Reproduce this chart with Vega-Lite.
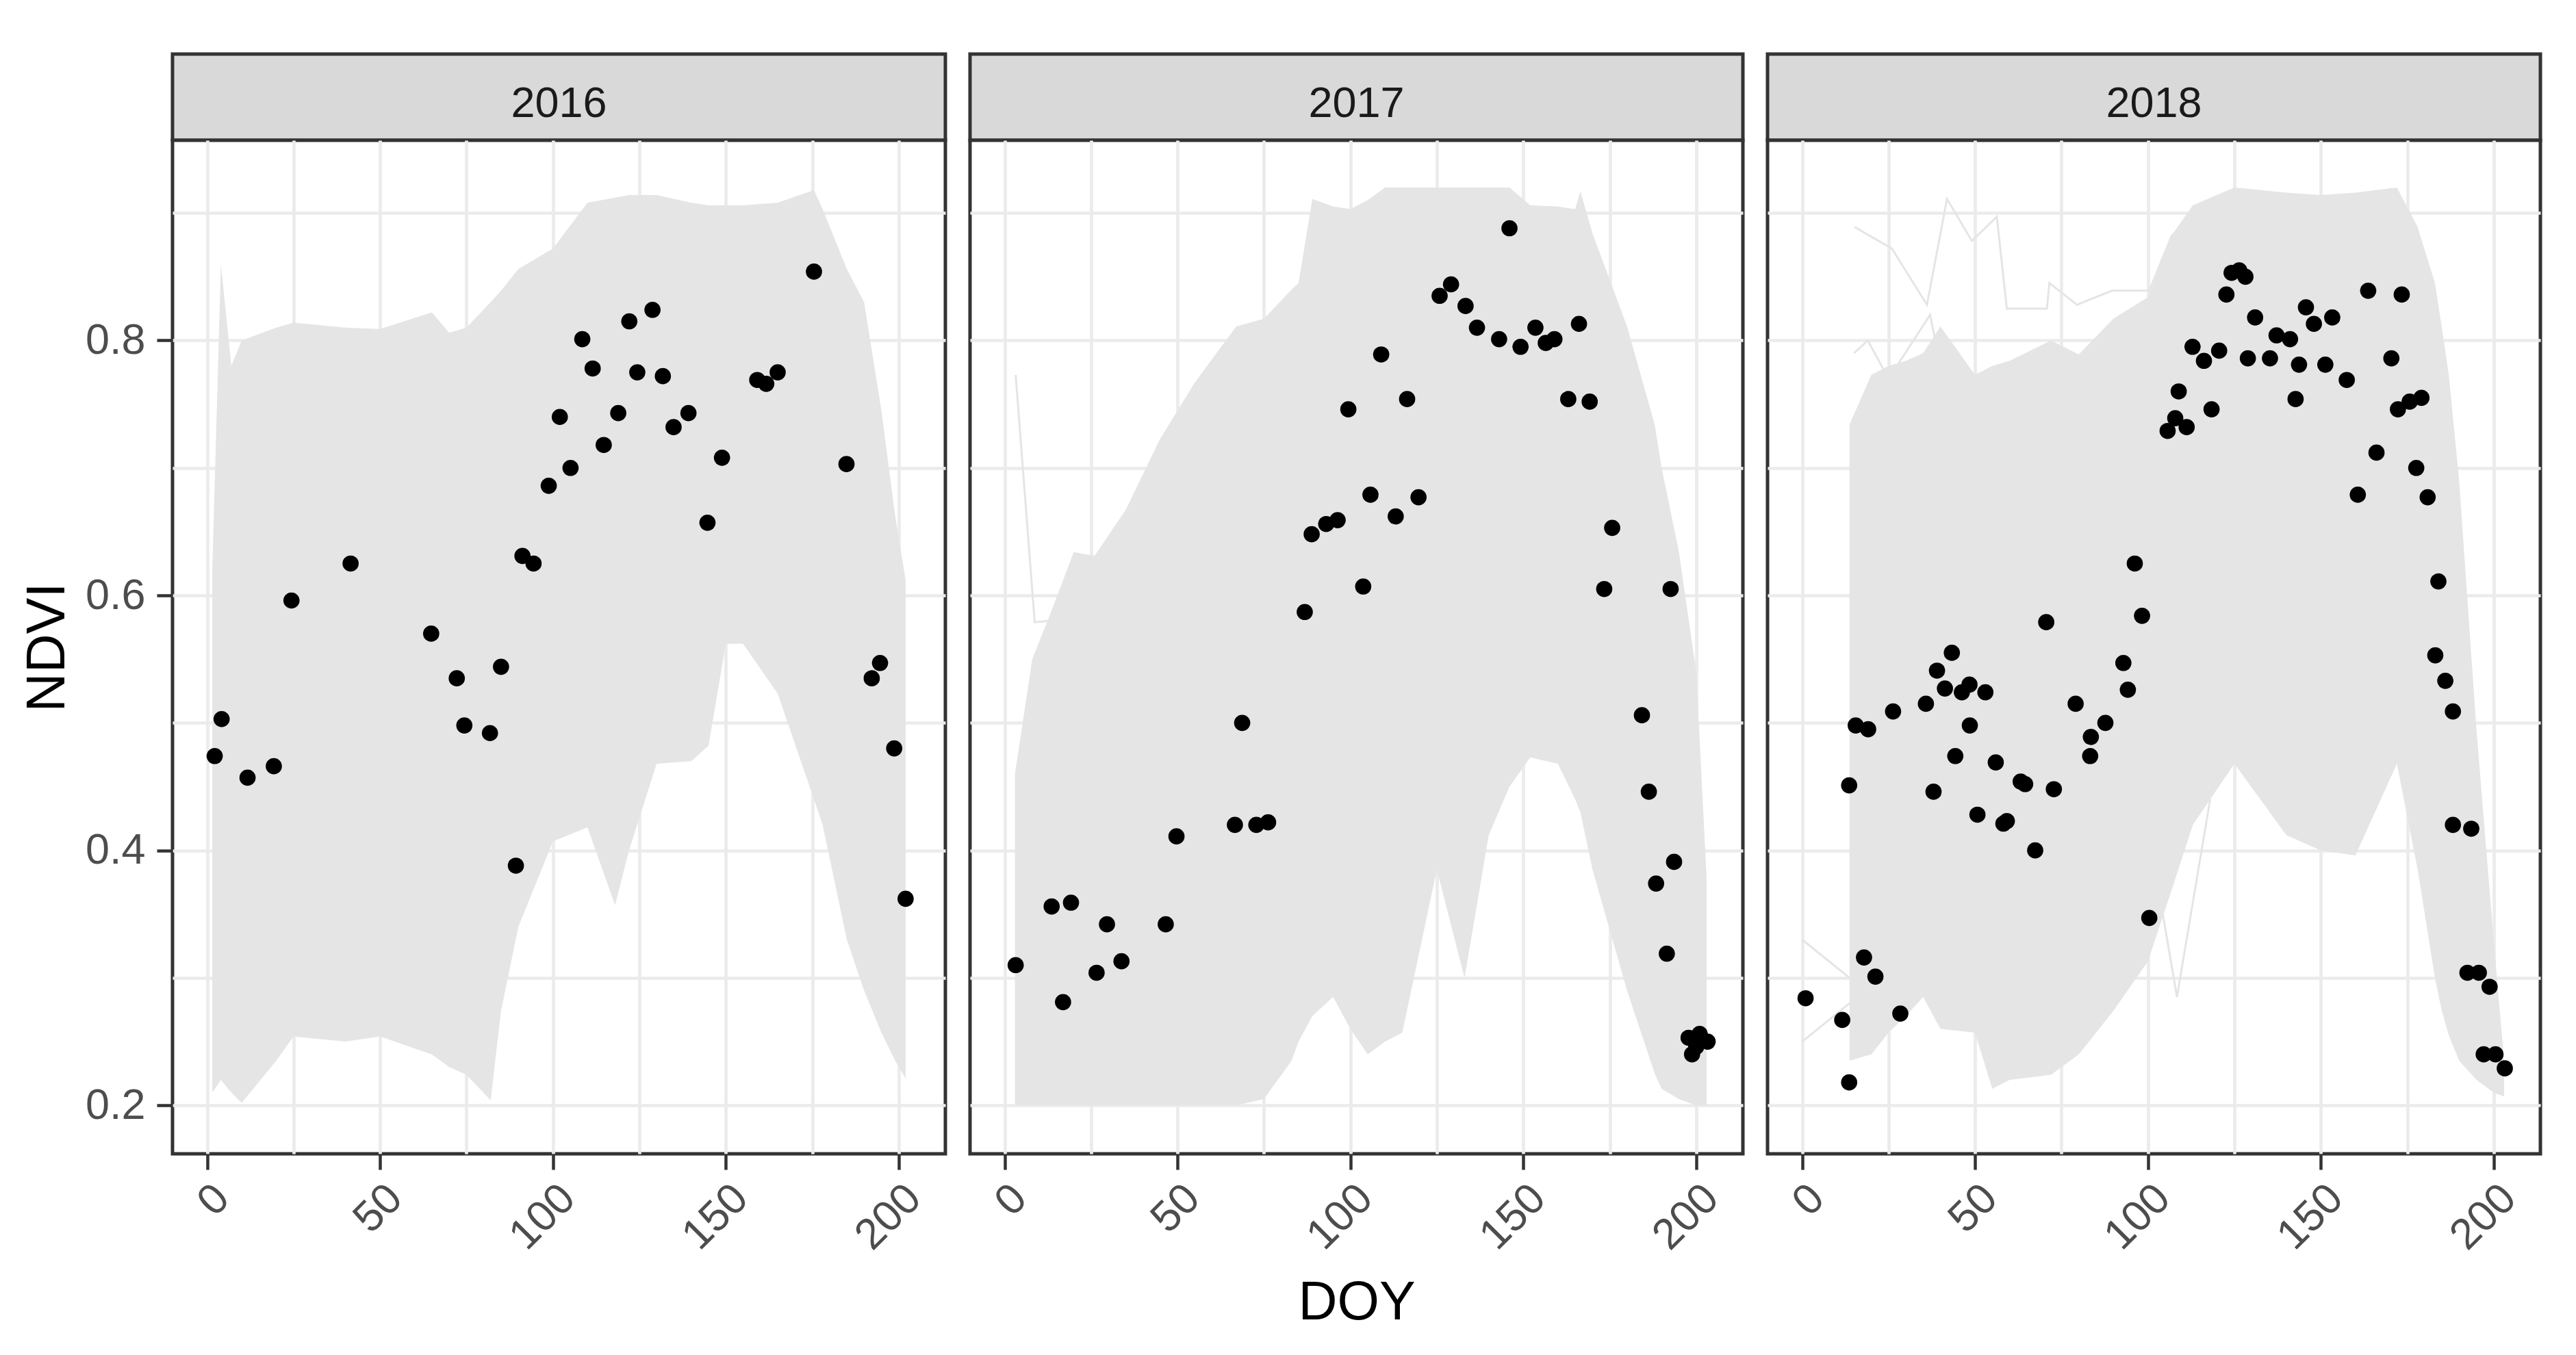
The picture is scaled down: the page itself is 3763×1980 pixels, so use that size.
{
"$schema": "https://vega.github.io/schema/vega-lite/v6.json",
"background": "white",
"padding": {"left": 27, "top": 76, "right": 5, "bottom": 5},
"autosize": {"type": "pad"},
"config": {"view": {"stroke": null}},
"datasets": {
"years": [{"year": "2016"}, {"year": "2017"}, {"year": "2018"}],
"band": [
{"year":2016,"doy":1.5,"lo":0.21,"hi":0.62},{"year":2016,"doy":4,"lo":0.22,"hi":0.86},{"year":2016,"doy":7,"lo":0.21,"hi":0.78},{"year":2016,"doy":10,"lo":0.202,"hi":0.80},{"year":2016,"doy":20,"lo":0.235,"hi":0.81},{"year":2016,"doy":25,"lo":0.254,"hi":0.814},{"year":2016,"doy":40,"lo":0.25,"hi":0.81},{"year":2016,"doy":50,"lo":0.254,"hi":0.809},{"year":2016,"doy":65,"lo":0.24,"hi":0.822},{"year":2016,"doy":70,"lo":0.23,"hi":0.806},{"year":2016,"doy":75,"lo":0.224,"hi":0.81},{"year":2016,"doy":82,"lo":0.204,"hi":0.83},{"year":2016,"doy":85,"lo":0.274,"hi":0.839},{"year":2016,"doy":90,"lo":0.34,"hi":0.856},{"year":2016,"doy":100,"lo":0.407,"hi":0.872},{"year":2016,"doy":110,"lo":0.418,"hi":0.908},{"year":2016,"doy":118,"lo":0.357,"hi":0.912},{"year":2016,"doy":122,"lo":0.40,"hi":0.914},{"year":2016,"doy":130,"lo":0.468,"hi":0.914},{"year":2016,"doy":140,"lo":0.47,"hi":0.908},{"year":2016,"doy":145,"lo":0.482,"hi":0.906},{"year":2016,"doy":150,"lo":0.562,"hi":0.906},{"year":2016,"doy":155,"lo":0.562,"hi":0.906},{"year":2016,"doy":165,"lo":0.523,"hi":0.908},{"year":2016,"doy":175.5,"lo":0.44,"hi":0.918},{"year":2016,"doy":178,"lo":0.42,"hi":0.903},{"year":2016,"doy":185,"lo":0.33,"hi":0.856},{"year":2016,"doy":190,"lo":0.29,"hi":0.83},{"year":2016,"doy":195,"lo":0.257,"hi":0.745},{"year":2016,"doy":199,"lo":0.235,"hi":0.662},{"year":2016,"doy":202,"lo":0.221,"hi":0.612},
{"year":2017,"doy":3,"lo":0.20,"hi":0.46},{"year":2017,"doy":8,"lo":0.20,"hi":0.55},{"year":2017,"doy":13,"lo":0.20,"hi":0.584},{"year":2017,"doy":20,"lo":0.20,"hi":0.634},{"year":2017,"doy":26,"lo":0.20,"hi":0.631},{"year":2017,"doy":35,"lo":0.20,"hi":0.667},{"year":2017,"doy":45,"lo":0.20,"hi":0.723},{"year":2017,"doy":55,"lo":0.20,"hi":0.767},{"year":2017,"doy":67,"lo":0.20,"hi":0.811},{"year":2017,"doy":75,"lo":0.205,"hi":0.817},{"year":2017,"doy":83,"lo":0.235,"hi":0.84},{"year":2017,"doy":85,"lo":0.25,"hi":0.845},{"year":2017,"doy":89,"lo":0.27,"hi":0.911},{"year":2017,"doy":95,"lo":0.285,"hi":0.905},{"year":2017,"doy":100,"lo":0.26,"hi":0.903},{"year":2017,"doy":105,"lo":0.24,"hi":0.91},{"year":2017,"doy":110,"lo":0.25,"hi":0.92},{"year":2017,"doy":115,"lo":0.257,"hi":0.92},{"year":2017,"doy":125,"lo":0.385,"hi":0.92},{"year":2017,"doy":133,"lo":0.30,"hi":0.92},{"year":2017,"doy":140,"lo":0.412,"hi":0.92},{"year":2017,"doy":146,"lo":0.45,"hi":0.92},{"year":2017,"doy":152,"lo":0.473,"hi":0.906},{"year":2017,"doy":160,"lo":0.468,"hi":0.905},{"year":2017,"doy":165,"lo":0.44,"hi":0.903},{"year":2017,"doy":166.5,"lo":0.43,"hi":0.917},{"year":2017,"doy":170,"lo":0.385,"hi":0.884},{"year":2017,"doy":180,"lo":0.29,"hi":0.811},{"year":2017,"doy":188,"lo":0.225,"hi":0.734},{"year":2017,"doy":190,"lo":0.213,"hi":0.70},{"year":2017,"doy":195,"lo":0.205,"hi":0.634},{"year":2017,"doy":200,"lo":0.20,"hi":0.54},{"year":2017,"doy":203,"lo":0.20,"hi":0.379},
{"year":2018,"doy":13.7,"lo":0.235,"hi":0.734},{"year":2018,"doy":20,"lo":0.24,"hi":0.773},{"year":2018,"doy":25,"lo":0.257,"hi":0.78},{"year":2018,"doy":30,"lo":0.27,"hi":0.784},{"year":2018,"doy":35,"lo":0.285,"hi":0.79},{"year":2018,"doy":40,"lo":0.26,"hi":0.811},{"year":2018,"doy":50,"lo":0.257,"hi":0.773},{"year":2018,"doy":55,"lo":0.213,"hi":0.78},{"year":2018,"doy":60,"lo":0.22,"hi":0.784},{"year":2018,"doy":72,"lo":0.224,"hi":0.80},{"year":2018,"doy":80,"lo":0.24,"hi":0.789},{"year":2018,"doy":90,"lo":0.274,"hi":0.817},{"year":2018,"doy":100,"lo":0.313,"hi":0.834},{"year":2018,"doy":107,"lo":0.37,"hi":0.883},{"year":2018,"doy":113,"lo":0.42,"hi":0.906},{"year":2018,"doy":125,"lo":0.468,"hi":0.92},{"year":2018,"doy":140,"lo":0.412,"hi":0.916},{"year":2018,"doy":150,"lo":0.40,"hi":0.914},{"year":2018,"doy":160,"lo":0.396,"hi":0.916},{"year":2018,"doy":172,"lo":0.468,"hi":0.92},{"year":2018,"doy":178,"lo":0.385,"hi":0.889},{"year":2018,"doy":183,"lo":0.30,"hi":0.845},{"year":2018,"doy":185,"lo":0.274,"hi":0.81},{"year":2018,"doy":187,"lo":0.255,"hi":0.773},{"year":2018,"doy":190,"lo":0.235,"hi":0.69},{"year":2018,"doy":195,"lo":0.22,"hi":0.495},{"year":2018,"doy":200,"lo":0.21,"hi":0.329},{"year":2018,"doy":203,"lo":0.207,"hi":0.235}
],
"stray": [
{"year":2017,"id":"s1","doy":3.2,"ndvi":0.773},{"year":2017,"id":"s1","doy":8.7,"ndvi":0.579},{"year":2017,"id":"s1","doy":13,"ndvi":0.58},
{"year":2018,"id":"t1","doy":15.2,"ndvi":0.889},{"year":2018,"id":"t1","doy":26,"ndvi":0.872},{"year":2018,"id":"t1","doy":36.1,"ndvi":0.828},{"year":2018,"id":"t1","doy":41.9,"ndvi":0.911},{"year":2018,"id":"t1","doy":49.1,"ndvi":0.878},{"year":2018,"id":"t1","doy":56.3,"ndvi":0.897},{"year":2018,"id":"t1","doy":59.2,"ndvi":0.825},{"year":2018,"id":"t1","doy":70.8,"ndvi":0.825},{"year":2018,"id":"t1","doy":71.5,"ndvi":0.845},{"year":2018,"id":"t1","doy":79.5,"ndvi":0.828},{"year":2018,"id":"t1","doy":89.6,"ndvi":0.839},{"year":2018,"id":"t1","doy":100.4,"ndvi":0.839},{"year":2018,"id":"t1","doy":107,"ndvi":0.883},
{"year":2018,"id":"t2","doy":0,"ndvi":0.33},{"year":2018,"id":"t2","doy":13.7,"ndvi":0.30},
{"year":2018,"id":"t3","doy":0,"ndvi":0.25},{"year":2018,"id":"t3","doy":13.7,"ndvi":0.28},
{"year":2018,"id":"t4","doy":98,"ndvi":0.45},{"year":2018,"id":"t4","doy":108.4,"ndvi":0.285},{"year":2018,"id":"t4","doy":118,"ndvi":0.44},
{"year":2018,"id":"t5","doy":15,"ndvi":0.79},{"year":2018,"id":"t5","doy":19,"ndvi":0.80},{"year":2018,"id":"t5","doy":25,"ndvi":0.77},{"year":2018,"id":"t5","doy":37,"ndvi":0.82},{"year":2018,"id":"t5","doy":40,"ndvi":0.78}
],
"pts": [
{"year":2016,"doy":2.2,"ndvi":0.474},{"year":2016,"doy":4.2,"ndvi":0.503},{"year":2016,"doy":11.7,"ndvi":0.457},{"year":2016,"doy":19.3,"ndvi":0.466},{"year":2016,"doy":24.4,"ndvi":0.596},{"year":2016,"doy":41.5,"ndvi":0.625},{"year":2016,"doy":64.8,"ndvi":0.570},{"year":2016,"doy":72.2,"ndvi":0.535},{"year":2016,"doy":74.4,"ndvi":0.498},{"year":2016,"doy":81.8,"ndvi":0.492},{"year":2016,"doy":85.0,"ndvi":0.544},{"year":2016,"doy":89.3,"ndvi":0.388},{"year":2016,"doy":91.2,"ndvi":0.631},{"year":2016,"doy":94.4,"ndvi":0.625},{"year":2016,"doy":98.8,"ndvi":0.686},{"year":2016,"doy":102.0,"ndvi":0.740},{"year":2016,"doy":105.1,"ndvi":0.700},{"year":2016,"doy":108.5,"ndvi":0.801},{"year":2016,"doy":111.5,"ndvi":0.778},{"year":2016,"doy":114.7,"ndvi":0.718},{"year":2016,"doy":118.9,"ndvi":0.743},{"year":2016,"doy":122.1,"ndvi":0.815},{"year":2016,"doy":124.4,"ndvi":0.775},{"year":2016,"doy":128.8,"ndvi":0.824},{"year":2016,"doy":131.8,"ndvi":0.772},{"year":2016,"doy":134.9,"ndvi":0.732},{"year":2016,"doy":139.2,"ndvi":0.743},{"year":2016,"doy":144.7,"ndvi":0.657},{"year":2016,"doy":148.9,"ndvi":0.708},{"year":2016,"doy":159.1,"ndvi":0.769},{"year":2016,"doy":161.7,"ndvi":0.766},{"year":2016,"doy":165.0,"ndvi":0.775},{"year":2016,"doy":175.5,"ndvi":0.854},{"year":2016,"doy":184.9,"ndvi":0.703},{"year":2016,"doy":192.2,"ndvi":0.535},{"year":2016,"doy":194.6,"ndvi":0.547},{"year":2016,"doy":198.7,"ndvi":0.480},{"year":2016,"doy":202.0,"ndvi":0.362},
{"year":2017,"doy":3.2,"ndvi":0.310},{"year":2017,"doy":13.6,"ndvi":0.356},{"year":2017,"doy":16.9,"ndvi":0.281},{"year":2017,"doy":19.2,"ndvi":0.359},{"year":2017,"doy":26.6,"ndvi":0.304},{"year":2017,"doy":29.6,"ndvi":0.342},{"year":2017,"doy":33.8,"ndvi":0.313},{"year":2017,"doy":46.6,"ndvi":0.342},{"year":2017,"doy":49.7,"ndvi":0.411},{"year":2017,"doy":66.6,"ndvi":0.420},{"year":2017,"doy":68.7,"ndvi":0.500},{"year":2017,"doy":72.8,"ndvi":0.420},{"year":2017,"doy":76.2,"ndvi":0.422},{"year":2017,"doy":86.8,"ndvi":0.587},{"year":2017,"doy":88.8,"ndvi":0.648},{"year":2017,"doy":93.0,"ndvi":0.656},{"year":2017,"doy":96.3,"ndvi":0.659},{"year":2017,"doy":99.4,"ndvi":0.746},{"year":2017,"doy":103.7,"ndvi":0.607},{"year":2017,"doy":105.8,"ndvi":0.679},{"year":2017,"doy":108.9,"ndvi":0.789},{"year":2017,"doy":113.1,"ndvi":0.662},{"year":2017,"doy":116.4,"ndvi":0.754},{"year":2017,"doy":119.7,"ndvi":0.677},{"year":2017,"doy":125.8,"ndvi":0.835},{"year":2017,"doy":129.1,"ndvi":0.844},{"year":2017,"doy":133.3,"ndvi":0.827},{"year":2017,"doy":136.6,"ndvi":0.810},{"year":2017,"doy":143.0,"ndvi":0.801},{"year":2017,"doy":146.0,"ndvi":0.888},{"year":2017,"doy":149.2,"ndvi":0.795},{"year":2017,"doy":153.5,"ndvi":0.810},{"year":2017,"doy":156.5,"ndvi":0.798},{"year":2017,"doy":159.0,"ndvi":0.801},{"year":2017,"doy":166.1,"ndvi":0.813},{"year":2017,"doy":163.0,"ndvi":0.754},{"year":2017,"doy":169.2,"ndvi":0.752},{"year":2017,"doy":175.7,"ndvi":0.653},{"year":2017,"doy":173.4,"ndvi":0.605},{"year":2017,"doy":192.6,"ndvi":0.605},{"year":2017,"doy":184.3,"ndvi":0.506},{"year":2017,"doy":186.3,"ndvi":0.446},{"year":2017,"doy":193.6,"ndvi":0.391},{"year":2017,"doy":188.4,"ndvi":0.374},{"year":2017,"doy":191.5,"ndvi":0.319},{"year":2017,"doy":197.8,"ndvi":0.253},{"year":2017,"doy":198.8,"ndvi":0.240},{"year":2017,"doy":201.0,"ndvi":0.256},{"year":2017,"doy":203.3,"ndvi":0.250},{"year":2017,"doy":200.0,"ndvi":0.246},
{"year":2018,"doy":1.0,"ndvi":0.284},{"year":2018,"doy":11.6,"ndvi":0.267},{"year":2018,"doy":13.6,"ndvi":0.218},{"year":2018,"doy":13.6,"ndvi":0.451},{"year":2018,"doy":15.5,"ndvi":0.498},{"year":2018,"doy":19.1,"ndvi":0.495},{"year":2018,"doy":17.9,"ndvi":0.316},{"year":2018,"doy":21.2,"ndvi":0.301},{"year":2018,"doy":26.3,"ndvi":0.509},{"year":2018,"doy":28.4,"ndvi":0.272},{"year":2018,"doy":35.8,"ndvi":0.515},{"year":2018,"doy":38.0,"ndvi":0.446},{"year":2018,"doy":39.0,"ndvi":0.541},{"year":2018,"doy":41.3,"ndvi":0.527},{"year":2018,"doy":43.3,"ndvi":0.555},{"year":2018,"doy":44.3,"ndvi":0.474},{"year":2018,"doy":46.2,"ndvi":0.524},{"year":2018,"doy":48.4,"ndvi":0.530},{"year":2018,"doy":48.5,"ndvi":0.498},{"year":2018,"doy":50.7,"ndvi":0.428},{"year":2018,"doy":53.0,"ndvi":0.524},{"year":2018,"doy":56.0,"ndvi":0.469},{"year":2018,"doy":58.2,"ndvi":0.421},{"year":2018,"doy":59.2,"ndvi":0.423},{"year":2018,"doy":63.2,"ndvi":0.454},{"year":2018,"doy":64.5,"ndvi":0.452},{"year":2018,"doy":67.4,"ndvi":0.400},{"year":2018,"doy":70.6,"ndvi":0.579},{"year":2018,"doy":72.8,"ndvi":0.448},{"year":2018,"doy":79.1,"ndvi":0.515},{"year":2018,"doy":83.5,"ndvi":0.489},{"year":2018,"doy":83.3,"ndvi":0.474},{"year":2018,"doy":87.7,"ndvi":0.500},{"year":2018,"doy":92.9,"ndvi":0.547},{"year":2018,"doy":94.2,"ndvi":0.526},{"year":2018,"doy":96.2,"ndvi":0.625},{"year":2018,"doy":98.3,"ndvi":0.584},{"year":2018,"doy":100.4,"ndvi":0.347},{"year":2018,"doy":105.7,"ndvi":0.729},{"year":2018,"doy":107.9,"ndvi":0.739},{"year":2018,"doy":108.9,"ndvi":0.760},{"year":2018,"doy":111.2,"ndvi":0.732},{"year":2018,"doy":112.9,"ndvi":0.795},{"year":2018,"doy":116.2,"ndvi":0.784},{"year":2018,"doy":118.4,"ndvi":0.746},{"year":2018,"doy":120.6,"ndvi":0.792},{"year":2018,"doy":122.7,"ndvi":0.836},{"year":2018,"doy":124.2,"ndvi":0.853},{"year":2018,"doy":126.4,"ndvi":0.855},{"year":2018,"doy":128.2,"ndvi":0.850},{"year":2018,"doy":128.9,"ndvi":0.786},{"year":2018,"doy":131.0,"ndvi":0.818},{"year":2018,"doy":135.3,"ndvi":0.786},{"year":2018,"doy":137.2,"ndvi":0.804},{"year":2018,"doy":141.1,"ndvi":0.801},{"year":2018,"doy":142.7,"ndvi":0.754},{"year":2018,"doy":143.7,"ndvi":0.781},{"year":2018,"doy":145.7,"ndvi":0.826},{"year":2018,"doy":148.0,"ndvi":0.813},{"year":2018,"doy":151.3,"ndvi":0.781},{"year":2018,"doy":153.3,"ndvi":0.818},{"year":2018,"doy":157.5,"ndvi":0.769},{"year":2018,"doy":160.7,"ndvi":0.679},{"year":2018,"doy":163.7,"ndvi":0.839},{"year":2018,"doy":166.1,"ndvi":0.712},{"year":2018,"doy":170.4,"ndvi":0.786},{"year":2018,"doy":172.3,"ndvi":0.746},{"year":2018,"doy":173.4,"ndvi":0.836},{"year":2018,"doy":175.7,"ndvi":0.752},{"year":2018,"doy":179.1,"ndvi":0.755},{"year":2018,"doy":177.6,"ndvi":0.700},{"year":2018,"doy":180.9,"ndvi":0.677},{"year":2018,"doy":184.0,"ndvi":0.611},{"year":2018,"doy":183.1,"ndvi":0.553},{"year":2018,"doy":186.0,"ndvi":0.533},{"year":2018,"doy":188.2,"ndvi":0.509},{"year":2018,"doy":188.2,"ndvi":0.420},{"year":2018,"doy":193.5,"ndvi":0.417},{"year":2018,"doy":192.4,"ndvi":0.304},{"year":2018,"doy":195.7,"ndvi":0.304},{"year":2018,"doy":198.8,"ndvi":0.293},{"year":2018,"doy":197.1,"ndvi":0.240},{"year":2018,"doy":200.5,"ndvi":0.240},{"year":2018,"doy":203.2,"ndvi":0.229}
]
},
"spacing": 30,
"hconcat": [
{"bounds": "flush", "spacing": 0, "vconcat": [
 {"width": 1129, "height": 126, "view": {"fill": "#D9D9D9", "stroke": "#333333", "strokeWidth": 5},
  "data": {"name": "years"}, "transform": [{"filter": "datum.year == '2016'"}],
  "mark": {"type": "text", "font": "Liberation Sans", "fontSize": 63, "color": "#1A1A1A", "align": "center", "baseline": "alphabetic", "dy": 29},
  "encoding": {"text": {"field": "year", "type": "nominal"}}},
 {"width": 1129, "height": 1481, "view": {"fill": "white", "stroke": "#333333", "strokeWidth": 5},
  "encoding": {"x": {"field": "doy", "type": "quantitative", "scale": {"domain": [-10, 213.5], "nice": false, "zero": false},
    "axis": {"values": [0,25,50,75,100,125,150,175,200], "labelExpr": "datum.value % 50 === 0 ? datum.label : ''", "grid": true, "gridColor": "#EBEBEB", "gridWidth": 4.7, "domain": false, "tickSize": 23, "tickWidth": 4.5, "tickColor": {"condition": {"test": "datum.value % 50 === 0", "value": "#333333"}, "value": "rgba(0,0,0,0)"}, "labelAngle": -45, "labelAlign": "right", "labelBaseline": "top", "labelPadding": 10, "labelFont": "Liberation Sans", "labelFontSize": 63, "labelColor": "#4D4D4D", "labelOverlap": false, "labelFlush": false, "title": null}}},
  "layer": [
   {"data": {"name": "band"}, "transform": [{"filter": "datum.year == 2016"}], "mark": {"type": "area", "color": "#E5E5E5", "opacity": 1},
    "encoding": {"y": {"field": "hi", "type": "quantitative", "scale": {"domain": [0.162, 0.957], "nice": false, "zero": false},
      "axis": {"values": [0.2,0.3,0.4,0.5,0.6,0.7,0.8,0.9], "labelExpr": "round(datum.value*10) % 2 === 0 ? format(datum.value, '.1f') : ''", "grid": true, "gridColor": "#EBEBEB", "gridWidth": 4.7, "domain": false, "tickSize": 23, "tickWidth": 4.5, "tickColor": {"condition": {"test": "round(datum.value*10) % 2 === 0", "value": "#333333"}, "value": "rgba(0,0,0,0)"}, "labelFont": "Liberation Sans", "labelFontSize": 63, "labelColor": "#4D4D4D", "labelPadding": 17, "title": "NDVI", "titleFont": "Liberation Sans", "titleFontSize": 79, "titleFontWeight": "normal", "titleColor": "#000000", "titlePadding": 14}},
     "y2": {"field": "lo"}}},
   {"data": {"name": "pts"}, "transform": [{"filter": "datum.year == 2016"}], "mark": {"type": "circle", "color": "#000000", "opacity": 1, "size": 560},
    "encoding": {"y": {"field": "ndvi", "type": "quantitative", "scale": {"domain": [0.162, 0.957], "nice": false, "zero": false}}}}
  ]}
]},
{"bounds": "flush", "spacing": 0, "vconcat": [
 {"width": 1129, "height": 126, "view": {"fill": "#D9D9D9", "stroke": "#333333", "strokeWidth": 5},
  "data": {"name": "years"}, "transform": [{"filter": "datum.year == '2017'"}],
  "mark": {"type": "text", "font": "Liberation Sans", "fontSize": 63, "color": "#1A1A1A", "align": "center", "baseline": "alphabetic", "dy": 29},
  "encoding": {"text": {"field": "year", "type": "nominal"}}},
 {"width": 1129, "height": 1481, "view": {"fill": "white", "stroke": "#333333", "strokeWidth": 5},
  "encoding": {"x": {"field": "doy", "type": "quantitative", "scale": {"domain": [-10, 213.5], "nice": false, "zero": false},
    "axis": {"values": [0,25,50,75,100,125,150,175,200], "labelExpr": "datum.value % 50 === 0 ? datum.label : ''", "grid": true, "gridColor": "#EBEBEB", "gridWidth": 4.7, "domain": false, "tickSize": 23, "tickWidth": 4.5, "tickColor": {"condition": {"test": "datum.value % 50 === 0", "value": "#333333"}, "value": "rgba(0,0,0,0)"}, "labelAngle": -45, "labelAlign": "right", "labelBaseline": "top", "labelPadding": 10, "labelFont": "Liberation Sans", "labelFontSize": 63, "labelColor": "#4D4D4D", "labelOverlap": false, "labelFlush": false, "title": "DOY", "titleFont": "Liberation Sans", "titleFontSize": 79, "titleFontWeight": "normal", "titleColor": "#000000", "titlePadding": 28}}},
  "layer": [
   {"data": {"name": "band"}, "transform": [{"filter": "datum.year == 2017"}], "mark": {"type": "area", "color": "#E5E5E5", "opacity": 1},
    "encoding": {"y": {"field": "hi", "type": "quantitative", "scale": {"domain": [0.162, 0.957], "nice": false, "zero": false},
      "axis": {"values": [0.2,0.3,0.4,0.5,0.6,0.7,0.8,0.9], "grid": true, "gridColor": "#EBEBEB", "gridWidth": 4.7, "domain": false, "ticks": false, "labels": false, "title": null}},
     "y2": {"field": "lo"}}},
   {"data": {"name": "stray"}, "transform": [{"filter": "datum.year == 2017"}], "mark": {"type": "line", "color": "#E5E5E5", "strokeWidth": 3},
    "encoding": {"y": {"field": "ndvi", "type": "quantitative", "scale": {"domain": [0.162, 0.957], "nice": false, "zero": false}}, "detail": {"field": "id"}}},
   {"data": {"name": "pts"}, "transform": [{"filter": "datum.year == 2017"}], "mark": {"type": "circle", "color": "#000000", "opacity": 1, "size": 560},
    "encoding": {"y": {"field": "ndvi", "type": "quantitative", "scale": {"domain": [0.162, 0.957], "nice": false, "zero": false}}}}
  ]}
]},
{"bounds": "flush", "spacing": 0, "vconcat": [
 {"width": 1129, "height": 126, "view": {"fill": "#D9D9D9", "stroke": "#333333", "strokeWidth": 5},
  "data": {"name": "years"}, "transform": [{"filter": "datum.year == '2018'"}],
  "mark": {"type": "text", "font": "Liberation Sans", "fontSize": 63, "color": "#1A1A1A", "align": "center", "baseline": "alphabetic", "dy": 29},
  "encoding": {"text": {"field": "year", "type": "nominal"}}},
 {"width": 1129, "height": 1481, "view": {"fill": "white", "stroke": "#333333", "strokeWidth": 5},
  "encoding": {"x": {"field": "doy", "type": "quantitative", "scale": {"domain": [-10, 213.5], "nice": false, "zero": false},
    "axis": {"values": [0,25,50,75,100,125,150,175,200], "labelExpr": "datum.value % 50 === 0 ? datum.label : ''", "grid": true, "gridColor": "#EBEBEB", "gridWidth": 4.7, "domain": false, "tickSize": 23, "tickWidth": 4.5, "tickColor": {"condition": {"test": "datum.value % 50 === 0", "value": "#333333"}, "value": "rgba(0,0,0,0)"}, "labelAngle": -45, "labelAlign": "right", "labelBaseline": "top", "labelPadding": 10, "labelFont": "Liberation Sans", "labelFontSize": 63, "labelColor": "#4D4D4D", "labelOverlap": false, "labelFlush": false, "title": null}}},
  "layer": [
   {"data": {"name": "band"}, "transform": [{"filter": "datum.year == 2018"}], "mark": {"type": "area", "color": "#E5E5E5", "opacity": 1},
    "encoding": {"y": {"field": "hi", "type": "quantitative", "scale": {"domain": [0.162, 0.957], "nice": false, "zero": false},
      "axis": {"values": [0.2,0.3,0.4,0.5,0.6,0.7,0.8,0.9], "grid": true, "gridColor": "#EBEBEB", "gridWidth": 4.7, "domain": false, "ticks": false, "labels": false, "title": null}},
     "y2": {"field": "lo"}}},
   {"data": {"name": "stray"}, "transform": [{"filter": "datum.year == 2018"}], "mark": {"type": "line", "color": "#E5E5E5", "strokeWidth": 3},
    "encoding": {"y": {"field": "ndvi", "type": "quantitative", "scale": {"domain": [0.162, 0.957], "nice": false, "zero": false}}, "detail": {"field": "id"}}},
   {"data": {"name": "pts"}, "transform": [{"filter": "datum.year == 2018"}], "mark": {"type": "circle", "color": "#000000", "opacity": 1, "size": 560},
    "encoding": {"y": {"field": "ndvi", "type": "quantitative", "scale": {"domain": [0.162, 0.957], "nice": false, "zero": false}}}}
  ]}
]}
]
}
